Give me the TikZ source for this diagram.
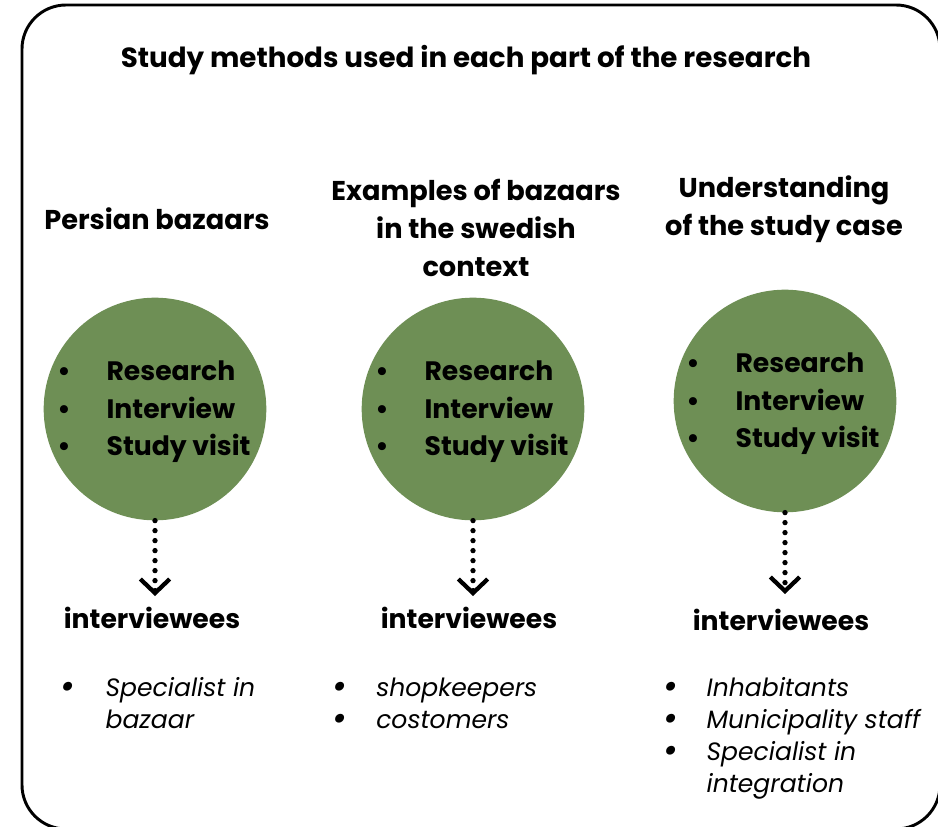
\documentclass[tikz,border=0pt]{standalone}
\usepackage{fontspec}
\setmainfont{Poppins}
\usetikzlibrary{arrows.meta}
\definecolor{olivegreen}{HTML}{6E8F55}
\newcommand\blist[2]{\makebox[#1][l]{•}#2}
\newcommand\bbul{{\bfseries\fontsize{22}{24}\selectfont •}}
\begin{document}
\begin{tikzpicture}[x=0.75pt,y=-0.75pt,
  frame/.style={line width=2.2pt, rounded corners=33pt},
  titletext/.style={font=\fontsize{20.8}{28}\selectfont\bfseries, align=center, inner sep=0pt},
  headtext/.style={font=\fontsize{20.4}{28.5}\selectfont\bfseries, align=center, inner sep=0pt},
  methodcircle/.style={circle, fill=olivegreen, minimum size=167pt, inner sep=0pt},
  methodlist/.style={font=\fontsize{20}{28.2}\selectfont\bfseries, align=left, inner sep=0pt, anchor=west},
  ivtext/.style={font=\fontsize{20}{28}\selectfont\bfseries, inner sep=0pt},
  ivlist/.style={font=\fontsize{18.8}{24}\selectfont\itshape, align=left, inner sep=0pt, anchor=north west},
  dotarrow/.style={line width=4pt, line cap=round, dash pattern=on 0pt off 7.5pt,
     -{Straight Barb[length=10.5pt, width=22pt, line width=3.2pt]}}
]
\useasboundingbox (0,0) rectangle (938,827);
\begin{scope}
\clip (0,0) rectangle (938,827);
\draw[frame] (22,5) rectangle (940,829);
\end{scope}

\node[titletext] (title) at (466,60) {Study methods used in each part of the research};

\node[headtext] (h1) at (157,219) {Persian bazaars};
\node[headtext] (h2) at (476,228) {Examples of bazaars\\in the swedish\\context};
\node[headtext] (h3) at (784,209) {Understanding\\of the study case};

\node[methodcircle] (c1) at (155,409) {};
\node[methodcircle] (c2) at (473,409) {};
\node[methodcircle] (c3) at (785,401) {};

\node[methodlist] (m1) at (57,412) {\blist{37pt}{Research}\\\blist{37pt}{Interview}\\\blist{37pt}{Study visit}};
\node[methodlist] (m2) at (375,412) {\blist{37pt}{Research}\\\blist{37pt}{Interview}\\\blist{37pt}{Study visit}};
\node[methodlist] (m3) at (686,404) {\blist{37pt}{Research}\\\blist{37pt}{Interview}\\\blist{37pt}{Study visit}};

\coordinate (a1) at (155,596);
\coordinate (a2) at (473,596);
\coordinate (a3) at (785,594);
\draw[dotarrow] (c1) -- (a1);
\draw[dotarrow] (c2) -- (a2);
\draw[dotarrow] (c3) -- (a3);

\node[ivtext] (i1) at (152,618) {interviewees};
\node[ivtext] (i2) at (469,618) {interviewees};
\node[ivtext] (i3) at (781,620) {interviewees};

\node[ivlist] (l1) at (60,674) {\begin{tabular}{@{}p{34pt}@{}l@{}}\bbul&Specialist in\\&bazaar\end{tabular}};
\node[ivlist] (l2) at (332,674) {\begin{tabular}{@{}p{33pt}@{}l@{}}\bbul&shopkeepers\\\bbul&costomers\end{tabular}};
\node[ivlist] (l3) at (663,674) {\begin{tabular}{@{}p{32.5pt}@{}l@{}}\bbul&Inhabitants\\\bbul&Municipality staff\\\bbul&Specialist in\\&integration\end{tabular}};
\end{tikzpicture}
\end{document}
